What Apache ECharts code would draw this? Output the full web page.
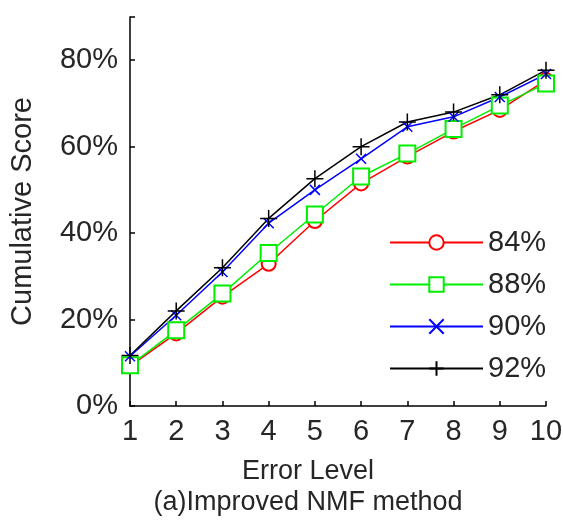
<!DOCTYPE html>
<html>
<head>
<meta charset="utf-8">
<script src="https://cdn.jsdelivr.net/npm/echarts@6/dist/echarts.min.js"></script>
<style>
  html, body { margin: 0; padding: 0; background: #fff; }
  #main { width: 563px; height: 523px; }
</style>
</head>
<body>
<div id="main"></div>
<script>
// error levels on the x axis
var errorLevels = [1, 2, 3, 4, 5, 6, 7, 8, 9, 10];
var seriesNames = ['84%', '88%', '90%', '92%'];

// cumulative score (%)
var score84 = [9.2, 16.8, 25.3, 32.9, 42.8, 51.5, 57.7, 63.5, 68.5, 75.4];
var score88 = [9.4, 17.5, 26.0, 35.4, 44.3, 53.1, 58.4, 64.1, 69.5, 74.6];
var score90 = [11.5, 21.0, 31.0, 42.3, 50.0, 57.2, 64.6, 66.9, 71.5, 76.8];
var score92 = [11.7, 22.0, 32.0, 43.4, 52.6, 60.0, 65.7, 68.0, 72.0, 77.7];

var yTicks = [0, 20, 40, 60, 80];

var font = 'Liberation Sans, Arial, sans-serif';
var textColor = '#262626';

function pairs(arr) {
  return errorLevels.map(function (x, i) { return [x, arr[i]]; });
}

var crossPath = 'path://M0,0L10,10M10,0L0,10';
var plusPath = 'path://M5,0L5,10M0,5L10,5';

var chart = echarts.init(document.getElementById('main'));

var option = {
  animation: false,
  backgroundColor: '#fff',
  grid: { left: 130, right: 17, top: 17, bottom: 117, outerBoundsMode: 'none' },
  legend: {
    orient: 'vertical',
    left: 384,
    top: 223,
    itemWidth: 93,
    itemHeight: 18,
    itemGap: 13,
    textStyle: { fontFamily: font, fontSize: 29, lineHeight: 28, color: textColor },
    data: seriesNames
  },
  xAxis: {
    type: 'value',
    min: 1,
    max: 10,
    interval: 1,
    name: 'Error Level',
    nameLocation: 'middle',
    nameGap: 52,
    nameTextStyle: { fontFamily: font, fontSize: 27, color: textColor, padding: [0, 60, 0, 0] },
    axisLine: { lineStyle: { color: '#000', width: 1.5 } },
    axisTick: { inside: true, length: 5, lineStyle: { color: '#000', width: 1.5 } },
    axisLabel: { fontFamily: font, fontSize: 29, color: textColor, margin: 11 },
    splitLine: { show: false }
  },
  yAxis: {
    type: 'value',
    min: 0,
    max: 90,
    interval: 20,
    name: 'Cumulative Score',
    nameLocation: 'middle',
    nameGap: 93,
    nameTextStyle: { fontFamily: font, fontSize: 29, color: textColor },
    axisLine: { show: true, lineStyle: { color: '#000', width: 1.5 } },
    axisTick: { inside: true, length: 5, lineStyle: { color: '#000', width: 1.5 } },
    axisLabel: {
      fontFamily: font, fontSize: 29, color: textColor, margin: 12,
      formatter: function (v) { return yTicks.indexOf(v) >= 0 ? v + '%' : ''; }
    },
    splitLine: { show: false }
  },
  graphic: [{
    type: 'text',
    x: 308,
    y: 503,
    style: {
      text: '(a)Improved NMF method',
      font: '27px ' + font,
      fill: textColor,
      textAlign: 'center',
      textVerticalAlign: 'middle'
    }
  }],
  series: [
    {
      name: '84%', type: 'line', data: pairs(score84),
      symbol: 'emptyCircle', symbolSize: 14,
      lineStyle: { color: '#ff0000', width: 1.5 },
      itemStyle: { color: '#ff0000', borderWidth: 1.5 }
    },
    {
      name: '88%', type: 'line', data: pairs(score88),
      symbol: 'emptyRect', symbolSize: 16,
      lineStyle: { color: '#00ee00', width: 1.5 },
      itemStyle: { color: '#00ee00', borderWidth: 1.5 }
    },
    {
      name: '90%', type: 'line', data: pairs(score90),
      symbol: crossPath, symbolSize: 10,
      lineStyle: { color: '#0000ff', width: 1.5 },
      itemStyle: { color: '#0000ff', borderColor: '#0000ff', borderWidth: 1.5 }
    },
    {
      name: '92%', type: 'line', data: pairs(score92),
      symbol: plusPath, symbolSize: 17,
      lineStyle: { color: '#000', width: 1.5 },
      itemStyle: { color: '#000', borderColor: '#000', borderWidth: 1.5 }
    }
  ]
};

chart.setOption(option);
</script>
</body>
</html>
